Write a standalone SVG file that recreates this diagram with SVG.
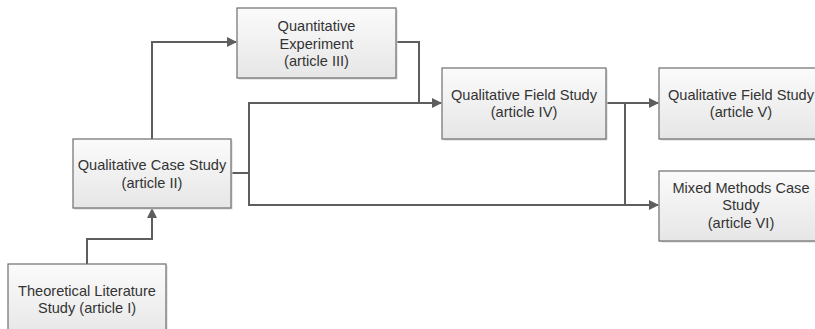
<svg xmlns="http://www.w3.org/2000/svg" width="815" height="329" viewBox="0 0 815 329">
<style>
.box{fill:url(#g);stroke:#6e6e6e;stroke-width:1.2}
.sh{fill:#d6d6d6}
.t{font-family:"Liberation Sans",Arial,sans-serif;font-size:14.6px;fill:#333;text-anchor:middle}
.c{fill:none;stroke:#5e5e5e;stroke-width:2}
</style>
<defs>
<linearGradient id="g" x1="0" y1="0" x2="0" y2="1">
<stop offset="0" stop-color="#fbfbfb"/>
<stop offset="1" stop-color="#e6e6e6"/>
</linearGradient>
<marker id="a" markerWidth="10" markerHeight="10" refX="9" refY="5" orient="auto" markerUnits="userSpaceOnUse">
<path d="M0,0 L10,5 L0,10 Z" fill="#5e5e5e"/>
</marker>
</defs>
<g id="connectors">
<path class="c" d="M152,139 V42 H236" marker-end="url(#a)"/>
<path class="c" d="M396,42 H419 V103"/>
<path class="c" d="M231,173 H249 V103 H441" marker-end="url(#a)"/>
<path class="c" d="M249,173 V205 H658" marker-end="url(#a)"/>
<path class="c" d="M606,103 H658" marker-end="url(#a)"/>
<path class="c" d="M625,103 V205"/>
<path class="c" d="M87,264 V239 H152 V209" marker-end="url(#a)"/>
</g>
<g id="n3">
<rect class="sh" x="238.5" y="9.5" width="159" height="70"/>
<rect class="box" x="237" y="8" width="159" height="70"/>
<text class="t" x="316.5" y="31">Quantitative</text>
<text class="t" x="316.5" y="48.5">Experiment</text>
<text class="t" x="316.5" y="66">(article III)</text>
</g>
<g id="n2">
<rect class="sh" x="74.5" y="140.5" width="158" height="69"/>
<rect class="box" x="73" y="139" width="158" height="69"/>
<text class="t" x="152" y="170">Qualitative Case Study</text>
<text class="t" x="152" y="187.5">(article II)</text>
</g>
<g id="n1">
<rect class="sh" x="9.5" y="265.5" width="158" height="75"/>
<rect class="box" x="8" y="264" width="158" height="75"/>
<text class="t" x="87" y="295.5">Theoretical Literature</text>
<text class="t" x="87" y="313">Study (article I)</text>
</g>
<g id="n4">
<rect class="sh" x="443.5" y="69.5" width="164" height="71"/>
<rect class="box" x="442" y="68" width="164" height="71"/>
<text class="t" x="524" y="99.5">Qualitative Field Study</text>
<text class="t" x="524" y="117">(article IV)</text>
</g>
<g id="n5">
<rect class="sh" x="660.5" y="69.5" width="164" height="71"/>
<rect class="box" x="659" y="68" width="164" height="71"/>
<text class="t" x="741" y="99.5">Qualitative Field Study</text>
<text class="t" x="741" y="117">(article V)</text>
</g>
<g id="n6">
<rect class="sh" x="660.5" y="172.5" width="164" height="70"/>
<rect class="box" x="659" y="171" width="164" height="70"/>
<text class="t" x="741" y="192.5">Mixed Methods Case</text>
<text class="t" x="741" y="210">Study</text>
<text class="t" x="741" y="227.5">(article VI)</text>
</g>
</svg>
